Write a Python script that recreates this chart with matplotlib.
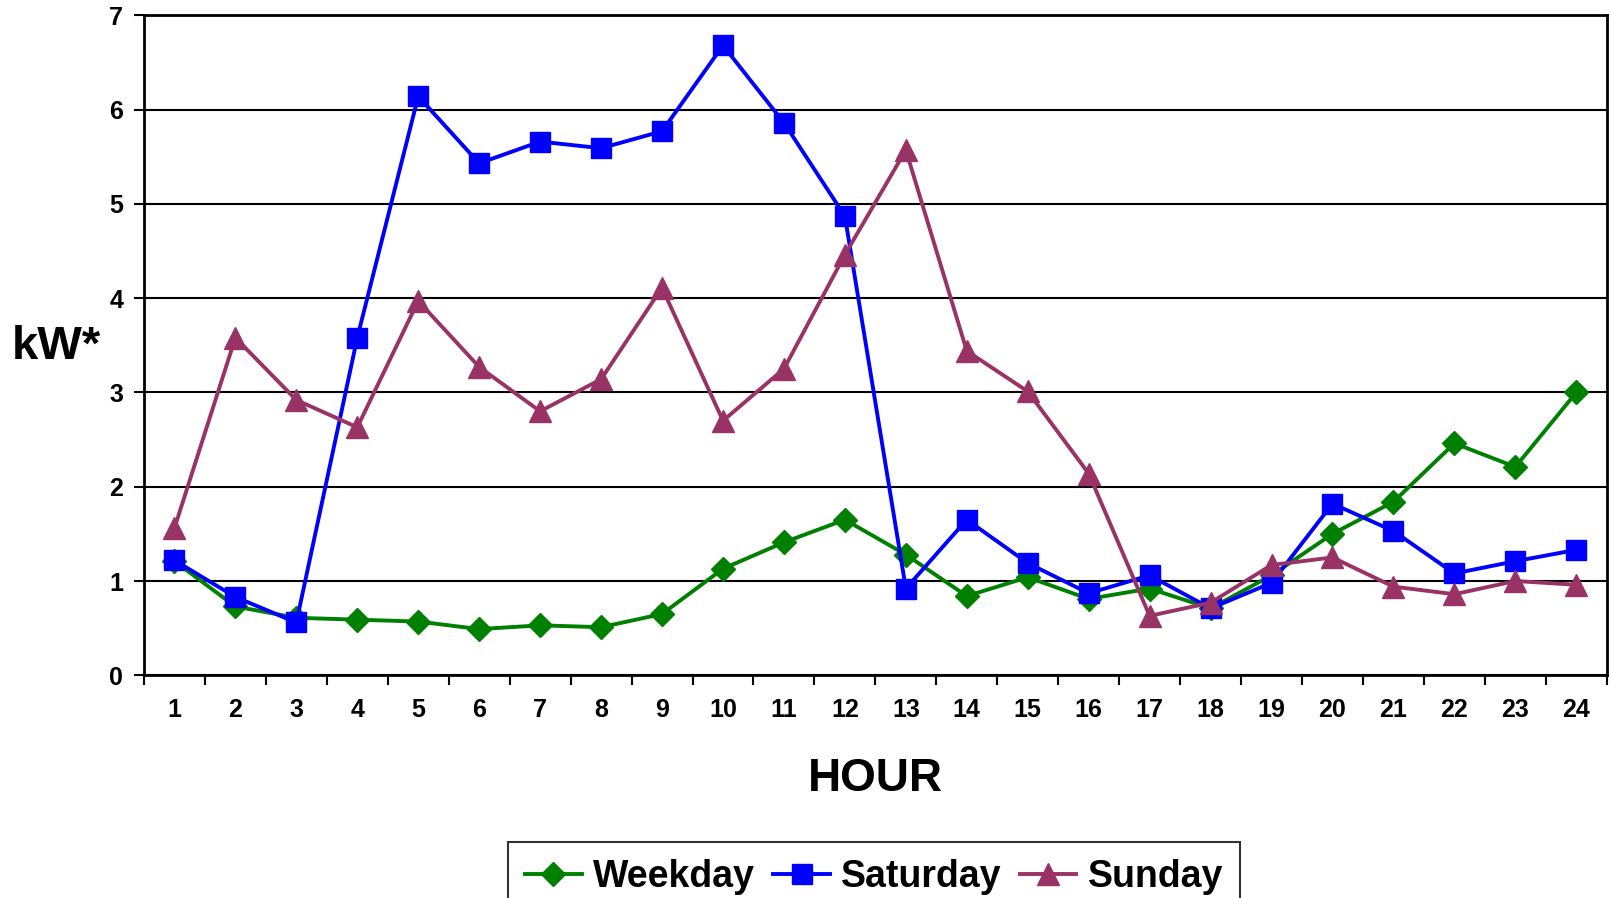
import numpy as np
import matplotlib.pyplot as plt

plt.rcParams['font.family'] = ['Liberation Sans', 'DejaVu Sans']
plt.rcParams['font.weight'] = 'bold'

# hourly load profile
hours = [str(h) for h in range(1, 25)]
weekday = [1.21, 0.73, 0.61, 0.59, 0.57, 0.49, 0.53, 0.51, 0.65, 1.13, 1.41, 1.65,
           1.28, 0.84, 1.04, 0.81, 0.92, 0.71, 1.06, 1.50, 1.84, 2.46, 2.21, 3.00]
saturday = [1.22, 0.83, 0.56, 3.58, 6.14, 5.43, 5.66, 5.59, 5.77, 6.68, 5.86, 4.87,
            0.92, 1.65, 1.19, 0.87, 1.06, 0.71, 0.98, 1.82, 1.53, 1.08, 1.21, 1.33]
sunday = [1.56, 3.58, 2.92, 2.63, 3.97, 3.27, 2.80, 3.14, 4.11, 2.70, 3.25, 4.46,
          5.57, 3.44, 3.01, 2.14, 0.63, 0.77, 1.17, 1.25, 0.94, 0.86, 1.00, 0.96]

fig = plt.figure(figsize=(16.1, 8.98), dpi=100)
ax = fig.add_axes([0.0894, 0.248, 0.9086, 0.735])

x = np.arange(len(hours))
ax.plot(x, weekday, color='#008000', lw=2.8, marker='D', ms=12, label='Weekday', zorder=3)
ax.plot(x, saturday, color='#0000FF', lw=2.8, marker='s', ms=14, label='Saturday', zorder=4)
ax.plot(x, sunday, color='#993366', lw=2.8, marker='^', ms=16, label='Sunday', zorder=5)

ax.set_xlim(-0.5, len(hours) - 0.5)
ax.set_ylim(0, 7)
ax.set_yticks(range(8))
ax.set_xticks(x)
ax.set_xticklabels(hours)
ax.set_xticks(np.arange(-0.5, len(hours)), minor=True)
ax.tick_params(axis='x', which='major', length=0, pad=16, labelsize=18)
ax.tick_params(axis='x', which='minor', length=7, width=1.5, direction='out')
ax.tick_params(axis='y', length=7, width=1.5, labelsize=18, pad=8)
ax.yaxis.grid(True, color='black', lw=1.5)
ax.set_axisbelow(True)
for s in ax.spines.values():
    s.set_linewidth(2)

fig.text(0.0348, 0.614, 'kW*', fontsize=34, fontweight='bold', ha='center', va='center')
fig.text(0.5435, 0.132, 'HOUR', fontsize=33, fontweight='bold', ha='center', va='center')

leg = fig.legend(loc='upper center', bbox_to_anchor=(0.543, 1 - 842 / 898), ncol=3,
                 frameon=True, fancybox=False, edgecolor='black',
                 prop={'weight': 'bold', 'size': 27},
                 handlelength=1.5, handletextpad=0.3, columnspacing=0.5,
                 borderpad=0.45, borderaxespad=0, bbox_transform=fig.transFigure)
leg.get_frame().set_linewidth(1.5)

fig.savefig('out.png', dpi=100)
